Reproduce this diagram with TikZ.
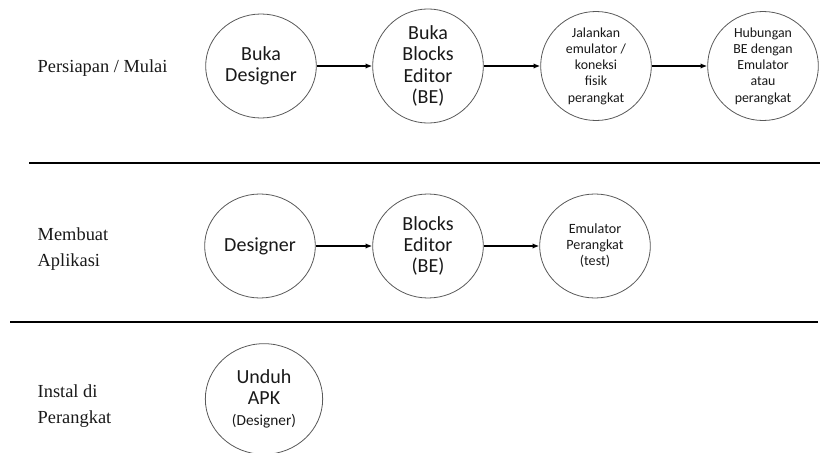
\documentclass[tikz,border=0pt]{standalone}
\usepackage{fontspec}
\setmainfont{Liberation Serif}
\newfontfamily\calib{Carlito}
\usetikzlibrary{shapes.geometric,arrows.meta,positioning}

\begin{document}
\begin{tikzpicture}[x=0.75pt,y=-0.75pt,
  proc/.style={draw=black!65, line width=0.6pt, ellipse, inner sep=0pt, minimum width=83pt, minimum height=78pt, align=center, text=black!90, font=\calib\fontsize{15}{16}\selectfont},
  small/.style={font=\calib\fontsize{10.4}{12.2}\selectfont},
  lbl/.style={anchor=west, align=left, text=black!90, font=\fontsize{13.8}{19}\selectfont},
  flow/.style={-{Latex[length=5pt,width=4pt]}, line width=1.1pt},
  sepline/.style={line width=1.6pt}]
\useasboundingbox (0,0) rectangle (821,453);

% baris 1
\node[lbl] (mulai) at (33,68) {Persiapan / Mulai};
\node[proc] (bukadesigner) at (261,66) {Buka\\Designer};
\node[proc] (bukabe) at (428,66) {Buka\\Blocks\\Editor\\(BE)};
\node[proc,small] (jalankan) at (596,66) {Jalankan\\emulator /\\koneksi\\fisik\\perangkat};
\node[proc,small] (hubungan) at (763,66) {Hubungan\\BE dengan\\Emulator\\atau\\perangkat};
\draw[flow] (bukadesigner) -- (bukabe);
\draw[flow] (bukabe) -- (jalankan);
\draw[flow] (jalankan) -- (hubungan);

\draw[sepline] (29,163) -- (820,163);

% baris 2
\node[lbl] (membuat) at (33,249) {Membuat\\Aplikasi};
\node[proc] (designer) at (260,246) {Designer};
\node[proc] (blocks) at (428,246) {Blocks\\Editor\\(BE)};
\node[proc,small,font=\calib\fontsize{10.6}{12}\selectfont] (emulator) at (595,246) {Emulator\\Perangkat\\(test)};
\draw[flow] (designer) -- (blocks);
\draw[flow] (blocks) -- (emulator);

\draw[sepline] (10,322) -- (818,322);

% baris 3
\node[lbl] (instal) at (33,406) {Instal di\\Perangkat};
\node[proc,minimum width=88pt,minimum height=83pt] (unduh) at (264,399) {Unduh\\APK\\{\fontsize{11.5}{15}\selectfont(Designer)}};
\end{tikzpicture}
\end{document}
